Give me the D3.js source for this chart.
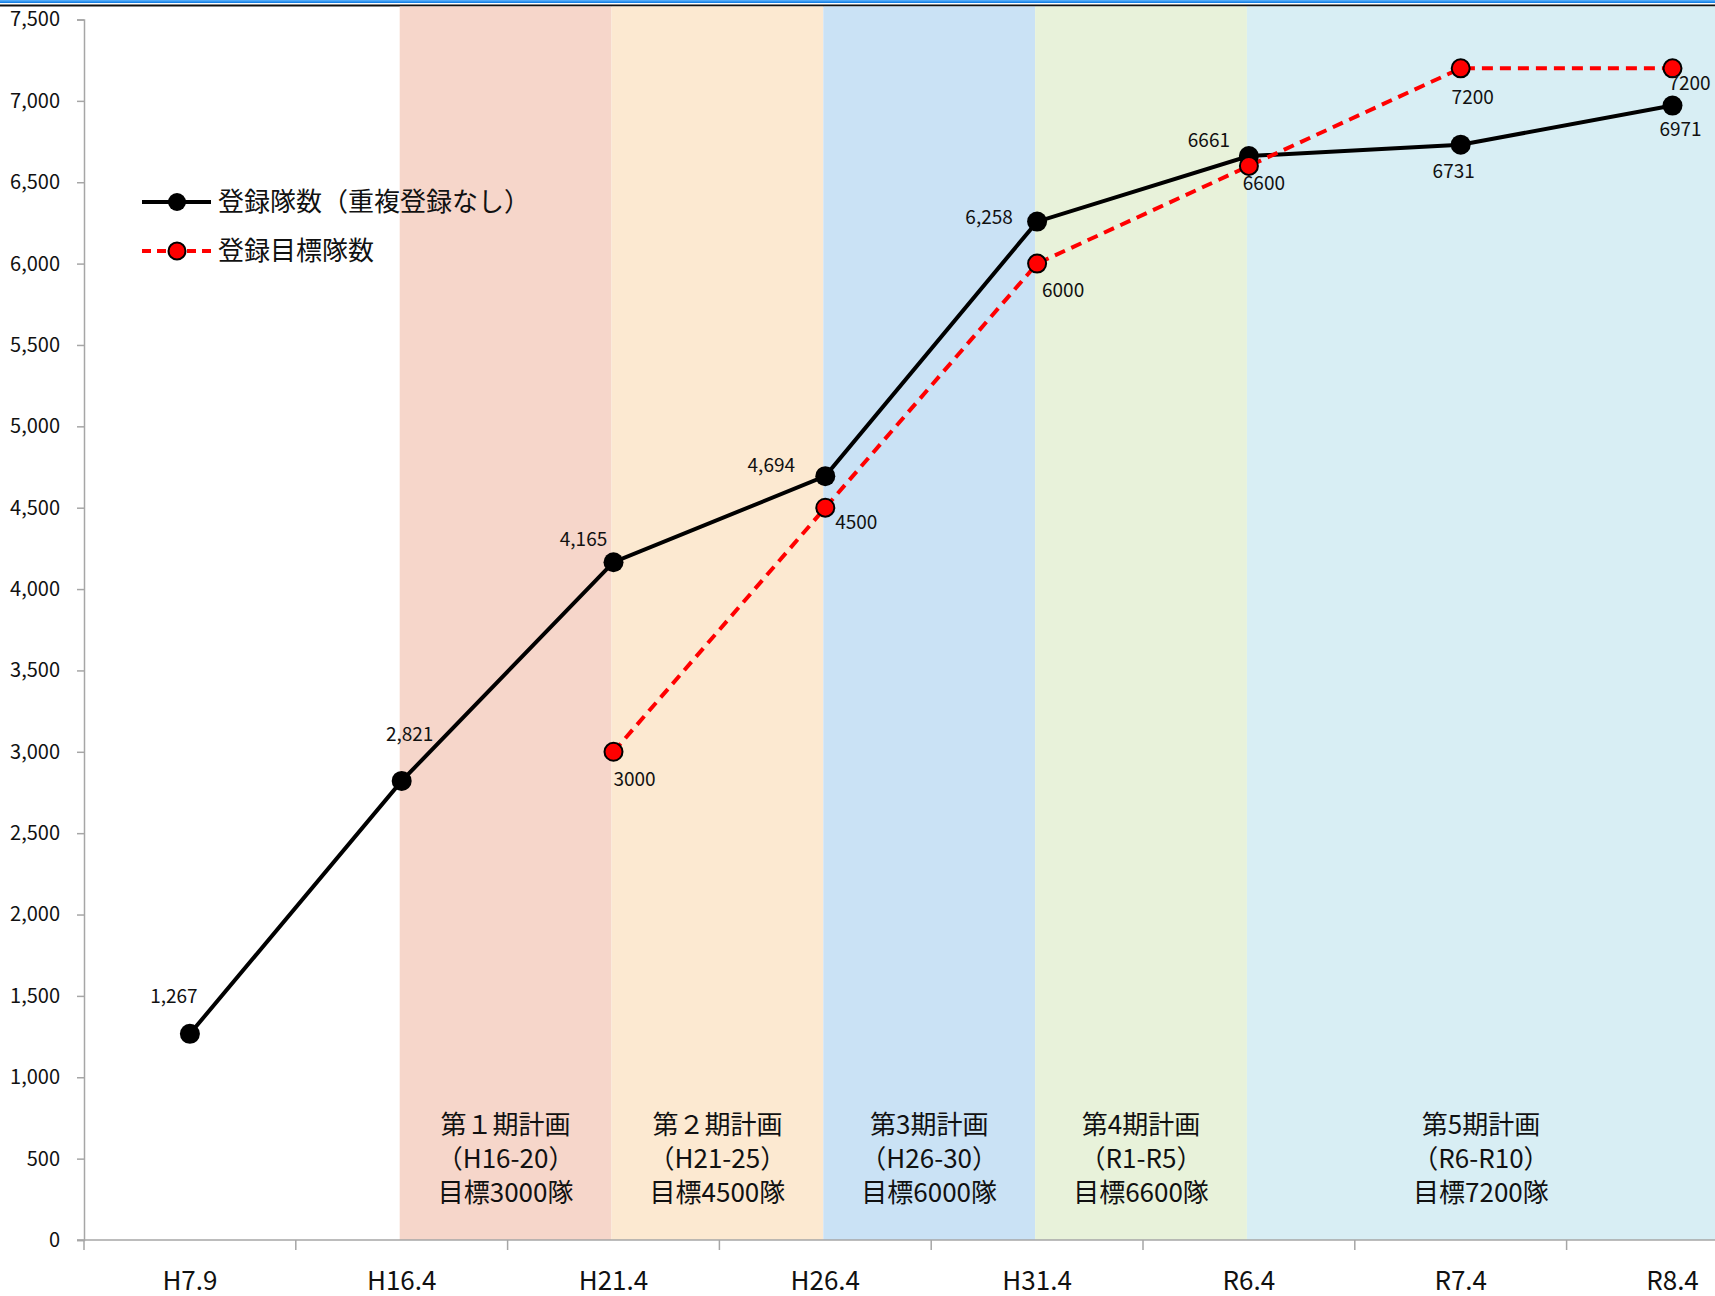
<!DOCTYPE html>
<html>
<head>
<meta charset="utf-8">
<script src="https://cdn.jsdelivr.net/npm/d3@7"></script>
<style>
  body { margin: 0; background: #fff; overflow: hidden; }
  svg { display: block; font-family: "Noto Sans CJK JP", "Noto Sans", sans-serif; }
</style>
</head>
<body>
<div id="chart"></div>
<script>
// data
const categories = ["H7.9", "H16.4", "H21.4", "H26.4", "H31.4", "R6.4", "R7.4", "R8.4"];
const actualValues = [1267, 2821, 4165, 4694, 6258, 6661, 6731, 6971];
const targetValues = [null, null, 3000, 4500, 6000, 6600, 7200, 7200];
const actualLabels = ["1,267", "2,821", "4,165", "4,694", "6,258", "6661", "6731", "6971"];
const targetLabels = [null, null, "3000", "4500", "6000", "6600", "7200", "7200"];
const yTicks = [0, 500, 1000, 1500, 2000, 2500, 3000, 3500, 4000, 4500, 5000, 5500, 6000, 6500, 7000, 7500];

// plan periods (start/end category index)
const periodNames = ["第１期計画", "第２期計画", "第3期計画", "第4期計画", "第5期計画"];
const periodYears = ["（H16-20）", "（H21-25）", "（H26-30）", "（R1-R5）", "（R6-R10）"];
const periodGoals = ["目標3000隊", "目標4500隊", "目標6000隊", "目標6600隊", "目標7200隊"];
const periodStart = [1, 2, 3, 4, 5];
const periodEnd = [2, 3, 4, 5, 8];
const periodColors = ["#f6d6ca", "#fce9d1", "#cae2f5", "#e8f2da", "#d8eef4"];

const seriesNames = ["登録隊数（重複登録なし）", "登録目標隊数"];

// label nudges (text centre relative to point)
const actualOffsets = [[-16, -38], [8, -47], [-30, -23], [-54, -11], [-48, -4], [-40, -16], [-7, 27], [8, 24]];
const targetOffsets = [null, null, [21, 27], [31, 14], [26, 27], [15, 17], [12, 29], [17, 15]];

const chartW = 1715, chartH = 1296;
const plotLeft = 84, plotTop = 19.5, plotBottom = 1240;
const step = 211.8;

const svg = d3.select("#chart").append("svg")
    .attr("width", chartW)
    .attr("height", chartH);

const x = d3.scaleBand()
    .domain(categories)
    .range([plotLeft, plotLeft + step * categories.length]);

const y = d3.scaleLinear()
    .domain([0, 7500])
    .range([plotBottom, plotTop]);

const cx = c => x(c) + x.bandwidth() / 2;

// window-ish top border
const grad = svg.append("defs").append("linearGradient")
    .attr("id", "topblue").attr("x1", 0).attr("x2", 0).attr("y1", 0).attr("y2", 1);
grad.append("stop").attr("offset", "0%").attr("stop-color", "#5fb4ff");
grad.append("stop").attr("offset", "100%").attr("stop-color", "#0a78e0");
svg.append("rect").attr("x", 0).attr("y", 0).attr("width", chartW).attr("height", 3).attr("fill", "url(#topblue)");
svg.append("rect").attr("x", 0).attr("y", 4.5).attr("width", chartW).attr("height", 2).attr("fill", "#111");

// shaded periods
const bands = periodNames.map((n, i) => ({
  name: n, years: periodYears[i], goal: periodGoals[i], color: periodColors[i],
  x0: cx(categories[periodStart[i]]) - 2,
  x1: periodEnd[i] >= categories.length ? x.range()[1] : cx(categories[periodEnd[i]]) - 2
}));

svg.append("g").selectAll("rect")
  .data(bands)
  .join("rect")
    .attr("x", d => d.x0)
    .attr("y", 6.5)
    .attr("width", d => d.x1 - d.x0)
    .attr("height", y(0) - 6.5)
    .attr("fill", d => d.color);

const bandText = svg.append("g")
    .attr("font-size", 26)
    .attr("fill", "#111")
    .attr("text-anchor", "middle");
bands.forEach(d => {
  const mid = (d.x0 + Math.min(d.x1, chartW)) / 2;
  [d.name, d.years, d.goal].forEach((t, k) => {
    bandText.append("text")
      .attr("x", mid)
      .attr("y", 1125 + k * 34)
      .attr("dy", "0.36em")
      .text(t);
  });
});

// axes
const yAxis = svg.append("g")
    .attr("transform", `translate(${plotLeft},0)`)
    .call(d3.axisLeft(y).tickValues(yTicks).tickSize(7).tickPadding(17).tickFormat(d3.format(",")));
yAxis.select(".domain").attr("stroke", "#a6a6a6").attr("stroke-width", 1.5);
yAxis.selectAll(".tick line").attr("stroke", "#a6a6a6").attr("stroke-width", 1.5);
yAxis.selectAll(".tick text")
    .attr("font-size", 20)
    .attr("fill", "#111")
    .attr("font-family", "Noto Sans CJK JP, sans-serif");

const xAxis = svg.append("g")
    .attr("transform", `translate(0,${plotBottom})`);
xAxis.append("line")
    .attr("x1", plotLeft - 7).attr("x2", x.range()[1])
    .attr("stroke", "#a6a6a6").attr("stroke-width", 1.5);
xAxis.selectAll(".xt")
  .data(categories.map(c => x(c)).concat([x.range()[1]]))
  .join("line")
    .attr("class", "xt")
    .attr("x1", d => d).attr("x2", d => d)
    .attr("y1", 0).attr("y2", 10)
    .attr("stroke", "#a6a6a6").attr("stroke-width", 1.5);
xAxis.selectAll("text")
  .data(categories)
  .join("text")
    .attr("x", d => cx(d))
    .attr("y", 50)
    .attr("text-anchor", "middle")
    .attr("font-size", 26)
    .attr("fill", "#111")
    .text(d => d);

// lines
const actualPts = categories.map((c, i) => ({c, v: actualValues[i], label: actualLabels[i], off: actualOffsets[i]}));
const targetPts = categories.map((c, i) => ({c, v: targetValues[i], label: targetLabels[i], off: targetOffsets[i]}))
    .filter(d => d.v != null);

const line = d3.line().x(d => cx(d.c)).y(d => y(d.v));

svg.append("path")
    .datum(actualPts)
    .attr("d", line)
    .attr("fill", "none")
    .attr("stroke", "#000")
    .attr("stroke-width", 4);

svg.append("path")
    .datum(targetPts)
    .attr("d", line)
    .attr("fill", "none")
    .attr("stroke", "#ff0000")
    .attr("stroke-width", 4)
    .attr("stroke-dasharray", "11,7");

svg.append("g").selectAll("circle")
  .data(actualPts)
  .join("circle")
    .attr("cx", d => cx(d.c))
    .attr("cy", d => y(d.v))
    .attr("r", 10)
    .attr("fill", "#000");

svg.append("g").selectAll("circle")
  .data(targetPts)
  .join("circle")
    .attr("cx", d => cx(d.c))
    .attr("cy", d => y(d.v))
    .attr("r", 9)
    .attr("fill", "#ff0000")
    .attr("stroke", "#000")
    .attr("stroke-width", 2);

// data labels
const labels = svg.append("g")
    .attr("font-size", 19)
    .attr("fill", "#111")
    .attr("text-anchor", "middle");
labels.selectAll(".al")
  .data(actualPts)
  .join("text")
    .attr("class", "al")
    .attr("x", d => cx(d.c) + d.off[0])
    .attr("y", d => y(d.v) + d.off[1])
    .attr("dy", "0.36em")
    .text(d => d.label);
labels.selectAll(".tl")
  .data(targetPts)
  .join("text")
    .attr("class", "tl")
    .attr("x", d => cx(d.c) + d.off[0])
    .attr("y", d => y(d.v) + d.off[1])
    .attr("dy", "0.36em")
    .text(d => d.label);

// legend
const legend = svg.append("g").attr("transform", "translate(142,202)");
const legendRows = legend.selectAll("g")
  .data(seriesNames)
  .join("g")
    .attr("transform", (d, i) => `translate(0,${i * 49})`);
legendRows.append("line")
    .attr("x1", 0).attr("x2", 69)
    .attr("stroke", (d, i) => i ? "#ff0000" : "#000")
    .attr("stroke-width", 4)
    .attr("stroke-dasharray", (d, i) => i ? "9,6" : null);
legendRows.append("circle")
    .attr("cx", 35)
    .attr("r", (d, i) => i ? 8.5 : 9)
    .attr("fill", (d, i) => i ? "#ff0000" : "#000")
    .attr("stroke", "#000")
    .attr("stroke-width", (d, i) => i ? 2 : 0);
legendRows.append("text")
    .attr("x", 76)
    .attr("dy", "0.36em")
    .attr("font-size", 26)
    .attr("fill", "#111")
    .text(d => d);
</script>
</body>
</html>
